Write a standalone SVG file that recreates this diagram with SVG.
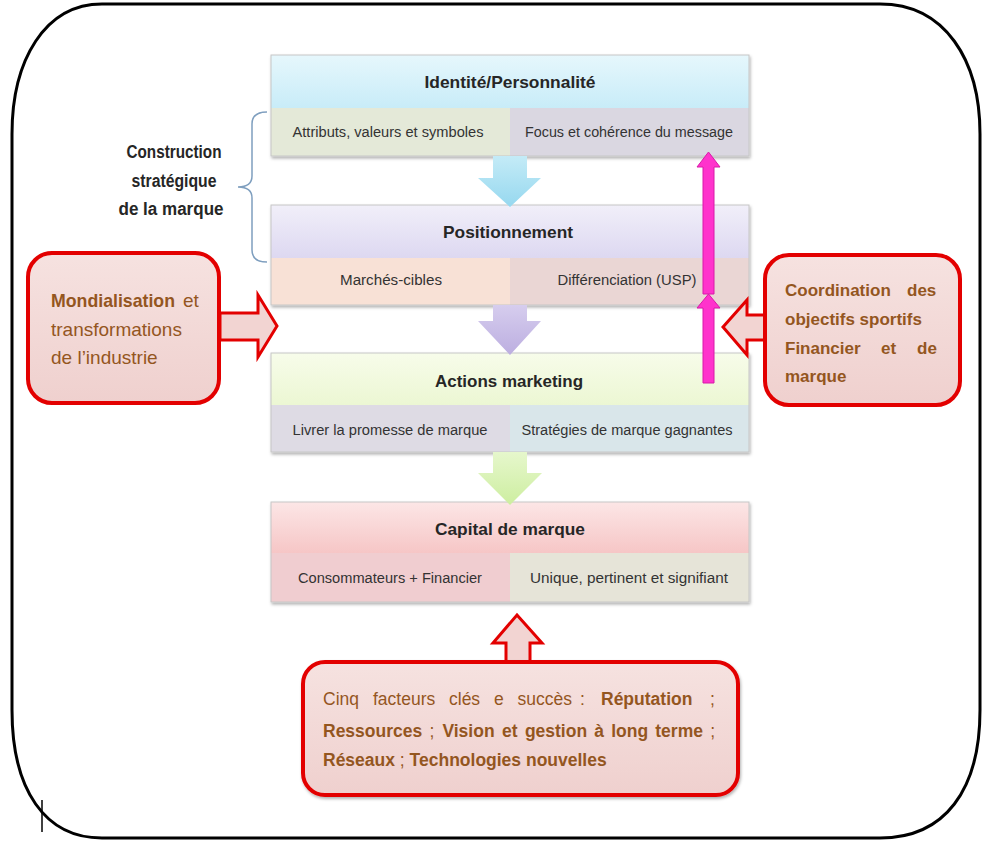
<svg xmlns="http://www.w3.org/2000/svg" width="984" height="843" viewBox="0 0 984 843">
<defs>
<style>
.hd{font-family:"Liberation Sans",Arial,sans-serif;font-weight:bold;font-size:17px;fill:#262626;text-anchor:middle}
.sb{font-family:"Liberation Sans",Arial,sans-serif;font-size:14px;fill:#333;text-anchor:middle}
.lbl{font-family:"Liberation Sans",Arial,sans-serif;font-weight:bold;font-size:18px;fill:#262626;text-anchor:middle}
.br{font-family:"Liberation Sans",Arial,sans-serif;font-size:17.5px;fill:#94561f}
.brb{font-family:"Liberation Sans",Arial,sans-serif;font-size:17.5px;fill:#94561f;font-weight:bold}
.rb{font-family:"Liberation Sans",Arial,sans-serif;font-size:17px;fill:#94561f;font-weight:bold}
.lb{font-family:"Liberation Sans",Arial,sans-serif;font-size:19px;fill:#94561f}
.cell{stroke:none}
.frame{fill:none;stroke:#c6c6c6;stroke-width:1}
.redbox{stroke:#e30000;stroke-width:4;fill:url(#gRed)}
.redarrow{stroke:#e30000;stroke-width:3;fill:#f2d4d2;stroke-linejoin:miter}
.mag{fill:#ff33cc;stroke:#d81ba8;stroke-width:1}
</style>
<linearGradient id="g1" x1="0" y1="0" x2="0" y2="1"><stop offset="0" stop-color="#e6f7fc"/><stop offset="1" stop-color="#c8ecf8"/></linearGradient>
<linearGradient id="g2" x1="0" y1="0" x2="0" y2="1"><stop offset="0" stop-color="#f1eff9"/><stop offset="1" stop-color="#ddd8f1"/></linearGradient>
<linearGradient id="g3" x1="0" y1="0" x2="0" y2="1"><stop offset="0" stop-color="#f7fcea"/><stop offset="1" stop-color="#ecf7d3"/></linearGradient>
<linearGradient id="g4" x1="0" y1="0" x2="0" y2="1"><stop offset="0" stop-color="#fce6e6"/><stop offset="1" stop-color="#f6c6c6"/></linearGradient>
<linearGradient id="gRed" x1="0" y1="0" x2="0" y2="1"><stop offset="0" stop-color="#f6e2e0"/><stop offset="1" stop-color="#efd0ce"/></linearGradient>
<linearGradient id="aBlue" x1="0" y1="0" x2="0" y2="1"><stop offset="0" stop-color="#c4ebf7"/><stop offset="1" stop-color="#96d8ef"/></linearGradient>
<linearGradient id="aPurple" x1="0" y1="0" x2="0" y2="1"><stop offset="0" stop-color="#d6cdee"/><stop offset="1" stop-color="#bcaee0"/></linearGradient>
<linearGradient id="aGreen" x1="0" y1="0" x2="0" y2="1"><stop offset="0" stop-color="#e6f7cc"/><stop offset="1" stop-color="#cdeea0"/></linearGradient>
<filter id="sh" x="-5%" y="-10%" width="110%" height="130%"><feDropShadow dx="1" dy="2" stdDeviation="1.5" flood-color="#000" flood-opacity="0.3"/></filter>
</defs>

<rect x="0" y="0" width="984" height="843" fill="#fff"/>
<path d="M 102 4 L 880 4 C 945 4 980 60 980 134 L 980 710 C 980 790 945 838 880 838 L 102 838 C 45 838 12 790 12 710 L 12 134 C 12 60 45 4 102 4 Z" fill="none" stroke="#000" stroke-width="3"/>
<line x1="42" y1="800" x2="42" y2="832" stroke="#000" stroke-width="1.5"/>

<g id="bracket">
<path d="M 267 112 Q 252 112 252 124 L 252 176 Q 252 187 238 187 Q 252 187 252 198 L 252 250 Q 252 262 267 262" fill="none" stroke="#7f9fbf" stroke-width="1.5"/>
<text class="lbl" x="174" y="158" textLength="95" lengthAdjust="spacingAndGlyphs">Construction</text>
<text class="lbl" x="174" y="187" textLength="85" lengthAdjust="spacingAndGlyphs">stratégique</text>
<text class="lbl" x="171" y="215" textLength="105" lengthAdjust="spacingAndGlyphs">de la marque</text>
</g>

<g id="identite" filter="url(#sh)">
<rect class="cell" x="271" y="55" width="478" height="53" fill="url(#g1)"/>
<rect class="cell" x="271" y="108" width="239" height="48" fill="#e4e9d8"/>
<rect class="cell" x="510" y="108" width="239" height="48" fill="#dad7e1"/>
<rect class="frame" x="271" y="55" width="478" height="101"/>
</g>
<g id="identite-text">
<text class="hd" x="510" y="88" textLength="171" lengthAdjust="spacingAndGlyphs">Identité/Personnalité</text>
<text class="sb" x="388" y="137" textLength="191" lengthAdjust="spacingAndGlyphs">Attributs, valeurs et symboles</text>
<text class="sb" x="629" y="137" textLength="208" lengthAdjust="spacingAndGlyphs">Focus et cohérence du message</text>
</g>

<g id="positionnement" filter="url(#sh)">
<rect class="cell" x="271" y="205" width="478" height="53" fill="url(#g2)"/>
<rect class="cell" x="271" y="258" width="239" height="47" fill="#f8e1d6"/>
<rect class="cell" x="510" y="258" width="239" height="47" fill="#ead6d4"/>
<rect class="frame" x="271" y="205" width="478" height="100"/>
</g>
<g id="positionnement-text">
<text class="hd" x="508" y="238" textLength="130" lengthAdjust="spacingAndGlyphs">Positionnement</text>
<text class="sb" x="391" y="285" textLength="102" lengthAdjust="spacingAndGlyphs">Marchés-cibles</text>
<text class="sb" x="627" y="285" textLength="139" lengthAdjust="spacingAndGlyphs">Différenciation (USP)</text>
</g>

<g id="actions" filter="url(#sh)">
<rect class="cell" x="271" y="353" width="478" height="52" fill="url(#g3)"/>
<rect class="cell" x="271" y="405" width="239" height="47" fill="#dedbe4"/>
<rect class="cell" x="510" y="405" width="239" height="47" fill="#d9e6ea"/>
<rect class="frame" x="271" y="353" width="478" height="99"/>
</g>
<g id="actions-text">
<text class="hd" x="509" y="387" textLength="148" lengthAdjust="spacingAndGlyphs">Actions marketing</text>
<text class="sb" x="390" y="435" textLength="195" lengthAdjust="spacingAndGlyphs">Livrer la promesse de marque</text>
<text class="sb" x="627" y="435" textLength="211" lengthAdjust="spacingAndGlyphs">Stratégies de marque gagnantes</text>
</g>

<g id="capital" filter="url(#sh)">
<rect class="cell" x="271" y="502" width="478" height="51" fill="url(#g4)"/>
<rect class="cell" x="271" y="553" width="239" height="49" fill="#f0cdd0"/>
<rect class="cell" x="510" y="553" width="239" height="49" fill="#e6e4d8"/>
<rect class="frame" x="271" y="502" width="478" height="100"/>
</g>
<g id="capital-text">
<text class="hd" x="510" y="535" textLength="150" lengthAdjust="spacingAndGlyphs">Capital de marque</text>
<text class="sb" x="390" y="583" textLength="184" lengthAdjust="spacingAndGlyphs">Consommateurs + Financier</text>
<text class="sb" x="629" y="583" textLength="198" lengthAdjust="spacingAndGlyphs">Unique, pertinent et signifiant</text>
</g>

<g id="connectors">
<polygon points="493,156 527,156 527,178 541,178 510,207 478,178 493,178" fill="url(#aBlue)"/>
<polygon points="493,305 527,305 527,321 541,321 510,355 478,321 493,321" fill="url(#aPurple)"/>
<polygon points="493,452 527,452 527,473 542,473 510,505 478,473 493,473" fill="url(#aGreen)"/>
<polygon class="mag" points="703,383 714,383 714,308 720,308 708.5,294 697,308 703,308"/>
<polygon class="mag" points="703,294 714,294 714,167 720,167 708.5,152 697,167 703,167"/>
<polygon class="redarrow" points="220,313 258,313 258,295 277,326 258,357 258,340 220,340"/>
<polygon class="redarrow" points="765,315 747,315 747,300 723,327 747,355 747,340 765,340"/>
<polygon class="redarrow" points="506,662 506,643 493,643 517,615 542,643 530,643 530,662"/>
</g>

<g id="mondialisation">
<rect class="redbox" x="28" y="253" width="191" height="150" rx="24" ry="24"/>
<text class="lb" x="51" y="307" font-weight="bold" textLength="124" lengthAdjust="spacingAndGlyphs">Mondialisation</text>
<text class="lb" x="183" y="307">et</text>
<text class="lb" x="51" y="336">transformations</text>
<text class="lb" x="51" y="364">de l’industrie</text>
</g>

<g id="coordination">
<rect class="redbox" x="765" y="255" width="195" height="150" rx="24" ry="24"/>
<text class="rb" x="785" y="296">Coordination</text>
<text class="rb" x="907" y="296">des</text>
<text class="rb" x="785" y="325">objectifs sportifs</text>
<text class="rb" x="785" y="354">Financier</text>
<text class="rb" x="881" y="354">et</text>
<text class="rb" x="917" y="354">de</text>
<text class="rb" x="785" y="382">marque</text>
</g>

<g id="facteurs" filter="url(#sh)">
<rect class="redbox" x="303" y="662" width="435" height="133" rx="22" ry="22"/>
</g>
<g id="facteurs-text">
<text class="br" x="323" y="705">Cinq</text>
<text class="br" x="373" y="705">facteurs</text>
<text class="br" x="449" y="705">clés</text>
<text class="br" x="494" y="705">e</text>
<text class="br" x="517.6" y="705">succès</text>
<text class="br" x="580" y="705">:</text>
<text class="brb" x="601" y="705">Réputation</text>
<text class="br" x="710" y="705">;</text>
<text class="brb" x="323" y="737">Ressources</text>
<text class="br" x="429.4" y="737">;</text>
<text class="brb" x="442.4" y="737">Vision</text>
<text class="brb" x="502.1" y="737">et</text>
<text class="brb" x="524.9" y="737">gestion</text>
<text class="brb" x="594.3" y="737">à</text>
<text class="brb" x="611.2" y="737">long</text>
<text class="brb" x="655.3" y="737">terme</text>
<text class="br" x="710.2" y="737">;</text>
<text class="br" x="323" y="766"><tspan font-weight="bold">Réseaux</tspan> ; <tspan font-weight="bold">Technologies nouvelles</tspan></text>
</g>
</svg>
